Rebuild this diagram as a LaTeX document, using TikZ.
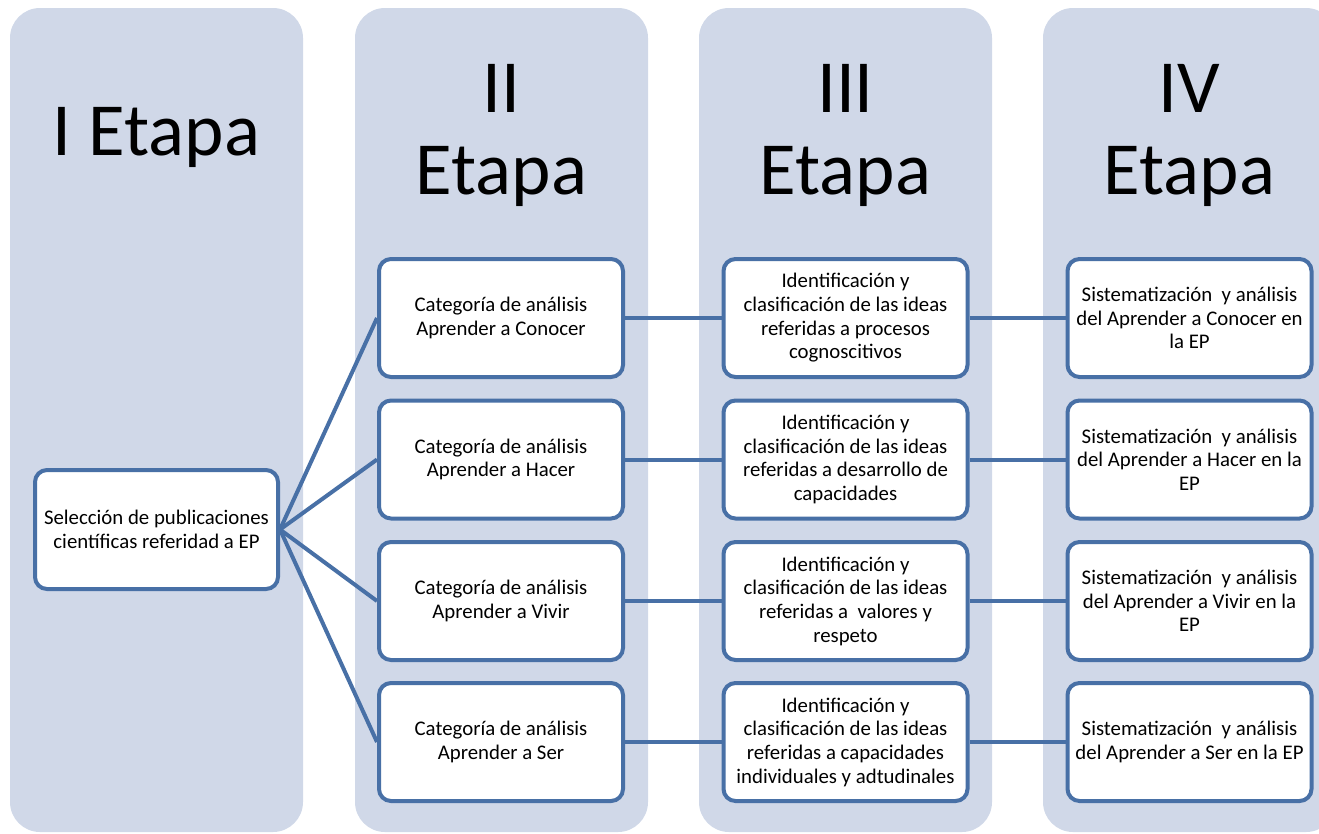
\documentclass[tikz,border=0pt]{standalone}
\usepackage{fontspec}
\setmainfont{Carlito}
\definecolor{colbg}{RGB}{208,216,232}
\definecolor{edgeblue}{RGB}{72,112,166}
\begin{document}
\begin{tikzpicture}[x=1pt,y=-1pt,
  colbox/.style={fill=colbg, rounded corners=30pt},
  stagebox/.style={draw=edgeblue, line width=4pt, fill=white, rounded corners=12pt, align=center,
    font=\fontsize{20.8}{23.7}\selectfont, inner sep=0pt, minimum width=244pt, minimum height=118pt},
  head/.style={font=\fontsize{75}{82}\selectfont, align=center, inner sep=0pt},
  link/.style={draw=edgeblue, line width=4pt}]
\useasboundingbox (0,0) rectangle (1319,833);
\begin{scope}
\clip (0,0) rectangle (1319,833);
\fill[colbox] (10,8) rectangle (303,832);
\fill[colbox] (355,8) rectangle (648,832);
\fill[colbox] (699,8) rectangle (992,832);
\fill[colbox] (1043,8) rectangle (1336,832);
\end{scope}

\node[head, anchor=base] (h1) at (156.5,155) {I Etapa};
\node[head] (h2) at (501.5,135) {II\\Etapa};
\node[head] (h3) at (845.5,135) {III\\Etapa};
\node[head] (h4) at (1189.5,135) {IV\\Etapa};

\node[stagebox, minimum width=243pt, minimum height=119pt] (a) at (156.5,529.5) {Selección de publicaciones\\científicas referidad a EP};

\node[stagebox] (b1) at (501,318) {Categoría de análisis\\Aprender a Conocer};
\node[stagebox] (b2) at (501,459.5) {Categoría de análisis\\Aprender a Hacer};
\node[stagebox] (b3) at (501,601) {Categoría de análisis\\Aprender a Vivir};
\node[stagebox] (b4) at (501,742) {Categoría de análisis\\Aprender a Ser};

\node[stagebox] (c1) at (845.5,318) {Identificación y\\clasificación de las ideas\\referidas a procesos\\cognoscitivos};
\node[stagebox] (c2) at (845.5,459.5) {Identificación y\\clasificación de las ideas\\referidas a desarrollo de\\capacidades};
\node[stagebox] (c3) at (845.5,601) {Identificación y\\clasificación de las ideas\\referidas a \ valores y\\respeto};
\node[stagebox] (c4) at (845.5,742) {Identificación y\\clasificación de las ideas\\referidas a capacidades\\individuales y adtudinales};

\node[stagebox] (d1) at (1189.5,318) {Sistematización \ y análisis\\del Aprender a Conocer en\\la EP};
\node[stagebox] (d2) at (1189.5,459.5) {Sistematización \ y análisis\\del Aprender a Hacer en la\\EP};
\node[stagebox] (d3) at (1189.5,601) {Sistematización \ y análisis\\del Aprender a Vivir en la\\EP};
\node[stagebox] (d4) at (1189.5,742) {Sistematización \ y análisis\\del Aprender a Ser en la EP};

\foreach \i in {1,2,3,4} {
  \draw[link] (a.east) -- (b\i.west);
  \draw[link] (b\i.east) -- (c\i.west);
  \draw[link] (c\i.east) -- (d\i.west);
}
\end{tikzpicture}
\end{document}
